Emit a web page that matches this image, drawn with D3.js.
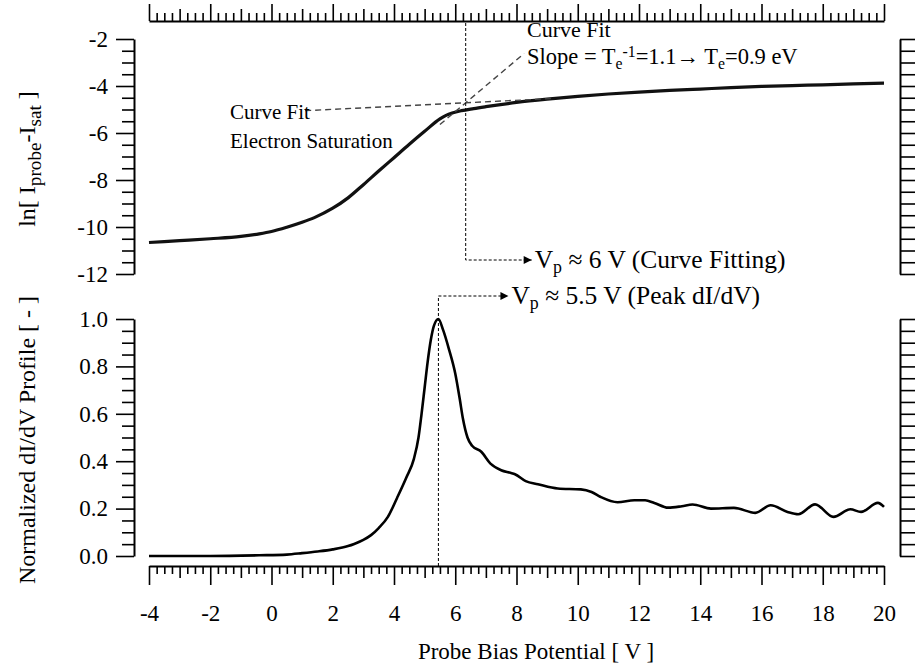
<!DOCTYPE html>
<html>
<head>
<meta charset="utf-8">
<script src="https://cdn.jsdelivr.net/npm/d3@7"></script>
<style>
  html, body { margin: 0; padding: 0; background: #fff; }
  svg { display: block; font-family: "Liberation Serif", "Times New Roman", serif; }
</style>
</head>
<body>
<svg id="chart" width="916" height="668"></svg>
<script>
// Probe bias sweep (V) and log of electron current ln[I_probe - I_sat]
const biasTop = [-4, -3, -2, -1, -0.4, 0, 0.5, 1.0, 1.4, 2.0, 2.5, 3.0, 3.5, 4.0, 4.5, 5.0, 5.5, 5.7, 5.9, 6.2, 6.6, 7.0, 8.0, 9.0, 10, 11, 12, 13, 14, 15, 16, 17, 18, 19, 20];
const lnCurrent = [-10.66, -10.58, -10.50, -10.40, -10.29, -10.19, -10.01, -9.80, -9.60, -9.20, -8.76, -8.20, -7.62, -7.05, -6.48, -5.93, -5.40, -5.25, -5.15, -5.05, -4.96, -4.88, -4.70, -4.56, -4.44, -4.34, -4.26, -4.19, -4.13, -4.07, -4.02, -3.98, -3.95, -3.91, -3.88];

// Normalized first derivative dI/dV
const biasBot = [-4, -2, -0.4, 0.5, 1.0, 1.5, 2.0, 2.5, 2.7, 3.0, 3.25, 3.5, 3.8, 4.1, 4.4, 4.65, 4.8, 4.9, 5.0, 5.1, 5.2, 5.3, 5.45, 5.6, 5.8, 6.0, 6.15, 6.25, 6.4, 6.55, 6.85, 7.15, 7.5, 7.8, 7.95, 8.3, 8.7, 9.35, 10.1, 10.45, 10.75, 11.3, 11.85, 12.2, 12.5, 12.95, 13.4, 13.75, 14.35, 15.1, 15.8, 16.3, 16.85, 17.2, 17.75, 18.35, 18.9, 19.25, 19.8, 20.0];
const dIdV = [0, 0, 0.003, 0.006, 0.012, 0.019, 0.028, 0.042, 0.051, 0.068, 0.088, 0.118, 0.165, 0.245, 0.33, 0.41, 0.50, 0.60, 0.71, 0.82, 0.91, 0.97, 1.0, 0.955, 0.87, 0.77, 0.66, 0.58, 0.50, 0.465, 0.44, 0.39, 0.362, 0.351, 0.345, 0.316, 0.303, 0.285, 0.281, 0.270, 0.249, 0.227, 0.235, 0.235, 0.224, 0.204, 0.210, 0.217, 0.200, 0.203, 0.182, 0.214, 0.186, 0.176, 0.218, 0.165, 0.197, 0.186, 0.224, 0.207];

// Linear fits of the log curve: electron saturation branch and transition branch
const satFit = { from: 1.1, to: 9.2, v0: 1.1, ln0: -5.05, slope: 0.064 };
const transFit = { from: 5.5, to: 8.25, v0: 5.8, ln0: -5.31, slope: 1.1 };

// Axis tick labels
const xTickLabels = [-4, -2, 0, 2, 4, 6, 8, 10, 12, 14, 16, 18, 20];
const yTopLabels = [-12, -10, -8, -6, -4, -2];
const yBotLabels = [0.0, 0.2, 0.4, 0.6, 0.8, 1.0];

const svg = d3.select("#chart");

const x = d3.scaleLinear().domain([-4, 20]).range([149, 884]);
const yTop = d3.scaleLinear().domain([-12, -2]).range([274, 39]);
const yBot = d3.scaleLinear().domain([0, 1]).range([556, 319]);

const AX_TOP = 21, AX_BOT = 566, AX_LEFT = 134, AX_RIGHT = 900;

const fs = 23;

function styleAxis(g, w) {
  g.selectAll("path.domain").attr("stroke", "#000").attr("stroke-width", w);
  g.selectAll(".tick line").attr("stroke", "#000").attr("stroke-width", 1.6);
  g.selectAll("text").attr("font-family", "Liberation Serif").attr("font-size", fs).attr("fill", "#000");
}

// plain hyphen for negative labels
const fmtInt = d => String(d);
const fmtOne = d => d.toFixed(1);

// x tick sets
const xMinor = d3.range(-4, 20.001, 0.25).filter(v => Math.abs(v - Math.round(v)) > 1e-6);
const xMid = d3.range(-3, 20, 2);
const xMajor = xTickLabels;

function xAxisAt(yPos, maker) {
  const g = svg.append("g").attr("transform", `translate(0,${yPos})`);
  g.append("g").call(maker(x).tickValues(xMinor).tickSize(8).tickSizeOuter(0).tickFormat("")).call(s => styleAxis(s, 2));
  g.append("g").call(maker(x).tickValues(xMid).tickSize(12).tickSizeOuter(0).tickFormat("")).call(s => s.select(".domain").remove()).call(s => styleAxis(s, 2));
  return g;
}
// top x axis (mirror, no labels)
xAxisAt(AX_TOP, d3.axisTop)
  .append("g").call(d3.axisTop(x).tickValues(xMajor).tickSize(17).tickSizeOuter(0).tickFormat(""))
  .call(s => s.select(".domain").remove()).call(s => styleAxis(s, 2));

// bottom x axis with labels
const gxb = xAxisAt(AX_BOT, d3.axisBottom);
gxb.append("g").call(d3.axisBottom(x).tickValues(xMajor).tickSize(19).tickSizeOuter(0).tickPadding(20).tickFormat(fmtInt))
  .call(s => s.select(".domain").remove()).call(s => styleAxis(s, 2));

// y axes: labelled left, mirrored right
function yAxes(scale, minorVals, majorVals, fmt) {
  const gl = svg.append("g").attr("transform", `translate(${AX_LEFT},0)`);
  gl.append("g").call(d3.axisLeft(scale).tickValues(minorVals).tickSize(12).tickSizeOuter(0).tickFormat("")).call(s => styleAxis(s, 2));
  gl.append("g").call(d3.axisLeft(scale).tickValues(majorVals).tickSize(18).tickSizeOuter(0).tickPadding(8).tickFormat(fmt))
    .call(s => s.select(".domain").remove()).call(s => styleAxis(s, 2));
  const gr = svg.append("g").attr("transform", `translate(${AX_RIGHT},0)`);
  gr.append("g").call(d3.axisRight(scale).tickValues(minorVals.concat(majorVals)).tickSize(15).tickSizeOuter(0).tickFormat("")).call(s => styleAxis(s, 2));
}
yAxes(yTop, d3.range(-12, -1.99, 0.5).filter(v => Math.abs(v / 2 - Math.round(v / 2)) > 1e-6), yTopLabels, fmtInt);
yAxes(yBot, d3.range(0, 1.0001, 0.05).filter(v => Math.abs(v * 5 - Math.round(v * 5)) > 1e-6), yBotLabels, fmtOne);

// fit lines
function fitLine(f) {
  return [f.from, f.to].map(v => [v, f.ln0 + f.slope * (v - f.v0)]);
}
const lineTop = d3.line().x(d => x(d[0])).y(d => yTop(d[1]));

// intersection of the two fits gives the plasma potential by fitting
const vpFit = (transFit.ln0 - transFit.slope * transFit.v0 - satFit.ln0 + satFit.slope * satFit.v0) / (satFit.slope - transFit.slope);

// measured curves
svg.append("path")
  .datum(biasTop.map((v, i) => [v, lnCurrent[i]]))
  .attr("d", d3.line().x(d => x(d[0])).y(d => yTop(d[1])).curve(d3.curveMonotoneX))
  .attr("fill", "none").attr("stroke", "#111").attr("stroke-width", 3.2);

svg.append("path")
  .datum(biasBot.map((v, i) => [v, dIdV[i]]))
  .attr("d", d3.line().x(d => x(d[0])).y(d => yBot(d[1])).curve(d3.curveMonotoneX))
  .attr("fill", "none").attr("stroke", "#000").attr("stroke-width", 2.6);

// dashed fits
[satFit, transFit].forEach(f => {
  svg.append("path").datum(fitLine(f)).attr("d", lineTop)
    .attr("fill", "none").attr("stroke", "#444").attr("stroke-width", 1.4).attr("stroke-dasharray", "6,4");
});

// arrow marker
svg.append("defs").append("marker")
  .attr("id", "arrow").attr("viewBox", "0 0 10 10").attr("refX", 10).attr("refY", 5)
  .attr("markerWidth", 12).attr("markerHeight", 8).attr("markerUnits", "userSpaceOnUse").attr("orient", "auto")
  .append("path").attr("d", "M0,0 L10,5 L0,10 z").attr("fill", "#000");

// plasma potential markers
const vpPeak = biasBot[dIdV.indexOf(d3.max(dIdV))];
const yFitMark = 260, yPeakMark = 296;
svg.append("path")
  .attr("d", `M${x(vpFit)},${AX_TOP + 2} V${yFitMark} H${x(vpFit) + 66}`)
  .attr("fill", "none").attr("stroke", "#000").attr("stroke-width", 1).attr("stroke-dasharray", "3,2")
  .attr("marker-end", "url(#arrow)");
svg.append("path")
  .attr("d", `M${x(vpPeak)},${AX_BOT} V${yPeakMark} H${x(vpPeak) + 70}`)
  .attr("fill", "none").attr("stroke", "#000").attr("stroke-width", 1).attr("stroke-dasharray", "3,2")
  .attr("marker-end", "url(#arrow)");

// text with sub/superscripts
function richText(xp, yp, parts, size, anchor, subScale) {
  const k = subScale || 0.7;
  const t = svg.append("text").attr("x", xp).attr("y", yp).attr("font-size", size)
    .attr("font-family", "Liberation Serif").attr("fill", "#000").attr("text-anchor", anchor || "start");
  parts.forEach(p => {
    const s = t.append("tspan").text(p.t);
    if (p.sub) s.attr("font-size", size * k).attr("baseline-shift", "-30%");
    if (p.sup) s.attr("font-size", size * k).attr("baseline-shift", "45%");
  });
  return t;
}

richText(527, 37, [{ t: "Curve Fit" }], 22);
richText(527, 64, [{ t: "Slope = T" }, { t: "e", sub: true }, { t: "-1", sup: true }, { t: "=1.1\u2192 T" }, { t: "e", sub: true }, { t: "=0.9 eV" }], 22.5);
richText(230, 119, [{ t: "Curve Fit" }], 21);
richText(230, 148, [{ t: "Electron Saturation" }], 21);
richText(x(vpFit) + 69, yFitMark + 8, [{ t: "V" }, { t: "p", sub: true }, { t: " \u2248 6 V (Curve Fitting)" }], 25.5);
richText(x(vpPeak) + 73, yPeakMark + 8, [{ t: "V" }, { t: "p", sub: true }, { t: " \u2248 5.5 V (Peak dI/dV)" }], 25.5);

// axis titles
richText(536, 659, [{ t: "Probe Bias Potential [ V ]" }], fs, "middle");

const t1 = richText(0, 0, [{ t: "ln[ I" }, { t: "probe", sub: true }, { t: "-I" }, { t: "sat", sub: true }, { t: " ]" }], 24, "middle", 0.8);
t1.attr("transform", `translate(35,159) rotate(-90)`);
const t2 = richText(0, 0, [{ t: "Normalized dI/dV Profile [ - ]" }], 24, "middle");
t2.attr("transform", `translate(35,440) rotate(-90)`);
</script>
</body>
</html>
